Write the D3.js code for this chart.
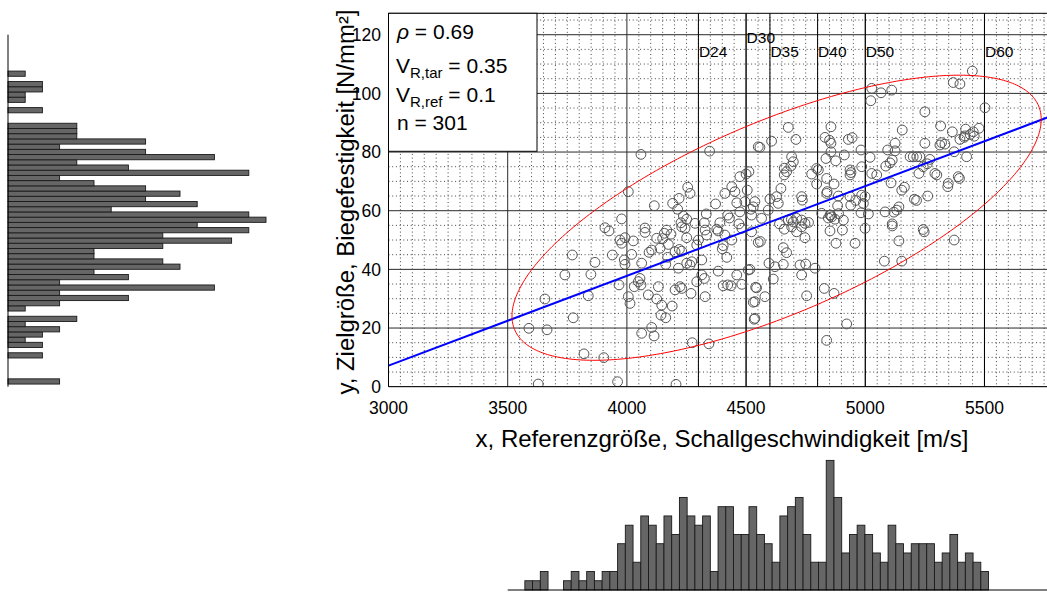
<!DOCTYPE html>
<html><head><meta charset="utf-8">
<script src="https://cdn.jsdelivr.net/npm/d3@7"></script>
<style>body{margin:0;background:#fff}svg{display:block;font-family:"Liberation Sans",Arial,Helvetica,sans-serif}</style>
</head><body><svg id="c" width="1047" height="594"></svg>
<script>
// ---------- data ----------
const xTicks = [3000, 3500, 4000, 4500, 5000, 5500];
const yTicks = [0, 20, 40, 60, 80, 100, 120];
const xDomain = [3000, 5800];
const yDomain = [0, 127.3];
const classNames = ["D24", "D30", "D35", "D40", "D50", "D60"];
const classX = [4300, 4500, 4600, 4800, 5000, 5500];
const rho = 0.69, vRtar = 0.35, vRref = 0.1, nSamples = 301;
const meanXY = [4628, 57.6];
const sdXY = [555, 24.3];
const ellipseK = 2;
const regression = [-84.6, 0.0306]; // intercept, slope
// bottom histogram (x values), 60 bins
const histXRange = [3572, 5517];
const histXCounts = [1,1,2,0,0,1,2,1,2,1, 2,2,5,7,3,8,7,5,8,6, 10,8,7,8,2,9,9,6,6,9, 6,5,3,8,9,10,6,3,3,14, 10,4,6,7,6,4,3,7,5,4, 5,5,5,3,4,6,3,4,3,2];
// left histogram (y values), 60 bins, ascending y
const histYRange = [0.9, 107.6];
const histYCounts = [3,0,0,0,0,2,0,2,1,2, 3,1,4,0,1,3,7,3,12,3, 7,5,10,9,5,5,9,13,9,14, 11,15,14,6,11,8,10,8,5,3, 14,7,4,12,8,3,8,4,4,4, 0,0,2,0,1,1,2,2,0,1];
// samples [x (m/s), y (N/mm²)]
const samples = [
[3628,0.9],[3589,19.9],[3665,19.4],[3656,29.9],[3775,23.5],[3771,44.9],[3740,38.1],[3866,42.4],[3849,38.3],[3838,31.0],
[3820,11.2],[3903,9.9],[3961,1.7],[3939,44.9],[3967,34.7],[4006,30.7],[4013,28.4],[4062,18.2],[4104,20.2],[4114,17.3],
[4206,0.8],[4274,15.0],[4344,14.6],[3908,54.2],[3925,53.1],[3971,50.0],[3978,48.9],[3992,50.8],[4027,49.7],[4020,45.1],
[3989,43.2],[3992,41.7],[4062,42.1],[4055,36.9],[4048,35.8],[4059,34.7],[4031,34.1],[4090,31.3],[4132,34.1],[4125,29.9],
[4146,27.8],[4190,27.5],[4143,24.4],[4163,23.5],[4076,52.6],[4125,50.6],[4157,52.3],[4167,53.4],[4104,46.6],[4093,45.8],
[4139,47.2],[4174,48.5],[4171,44.1],[4163,41.7],[4202,46.0],[4220,46.8],[4230,46.2],[4216,40.4],[4251,42.1],[4265,41.5],
[4272,42.6],[4202,33.0],[4223,34.1],[4230,33.5],[4269,31.8],[4328,30.7],[4293,35.8],[4314,38.1],[4325,36.9],[4314,43.2],
[4293,48.3],[4300,50.0],[4251,50.8],[4244,54.0],[4230,54.5],[4328,53.4],[4335,51.7],[4377,53.7],[4383,53.1],[4411,51.7],
[4440,50.0],[4404,48.1],[4419,44.1],[4383,39.4],[4461,38.1],[4509,39.8],[4516,40.0],[4404,34.4],[4423,34.7],[4437,34.4],
[4482,34.9],[4530,28.8],[4534,23.0],[4540,33.9],[4523,52.8],[4482,54.0],[4551,49.2],[4656,47.4],[4670,45.7],[4596,42.1],
[4621,40.9],[4656,41.7],[4726,41.5],[4750,41.8],[4733,38.1],[4789,40.4],[4614,36.7],[4544,33.7],[4579,30.7],[4537,29.0],
[4537,23.3],[4754,31.0],[4828,33.5],[4869,31.8],[4922,21.4],[4838,15.8],[4877,48.9],[4957,48.9],[4852,53.1],[4904,53.4],
[4999,54.0],[4747,50.8],[4712,52.8],[4660,53.7],[4691,54.5],[4733,54.5],[5080,42.8],[5153,42.8],[5141,49.7],[5247,52.8],
[5113,54.8],[5373,50.0],[5449,107.6],[5369,103.7],[5397,103.2],[5027,101.7],[5066,100.2],[5111,101.1],[5023,97.5],[5502,95.1],
[5250,93.7],[4677,88.4],[4856,88.6],[5155,87.5],[5316,88.9],[5365,86.9],[5421,87.8],[5453,86.9],[5477,88.1],[5397,84.3],
[5415,85.0],[5457,85.4],[4607,83.7],[4558,81.6],[4709,84.3],[4831,85.0],[4856,83.0],[4856,80.1],[4929,84.3],[4945,84.9],
[4982,80.7],[4912,79.0],[4876,77.0],[4835,77.8],[5020,78.2],[5094,80.7],[5125,83.0],[5125,80.4],[5250,83.0],[5320,83.2],
[5334,82.7],[5313,82.4],[5373,80.1],[5425,78.4],[5188,78.4],[5201,78.4],[5216,78.4],[5229,78.4],[5271,77.5],[4691,78.4],
[4698,76.7],[4688,75.2],[4670,73.3],[4660,72.2],[4796,74.4],[4803,73.9],[4775,72.5],[4838,71.0],[4796,69.1],[4869,69.1],
[4936,73.9],[4936,72.2],[4985,75.0],[5027,72.7],[5048,72.2],[5086,75.2],[5104,76.3],[5113,77.3],[5108,69.5],[5225,72.7],
[5243,75.0],[5292,72.7],[5300,72.2],[5390,71.6],[5348,69.3],[5346,68.2],[5164,68.0],[5153,67.0],[5206,63.9],[5262,65.0],
[4646,67.6],[4628,64.8],[4635,62.5],[4733,64.8],[4736,63.6],[4838,65.9],[4887,65.0],[4936,64.8],[4985,65.3],[4999,64.8],
[4992,62.5],[4939,61.9],[4884,61.7],[4593,60.2],[4537,63.1],[4565,57.4],[4677,56.8],[4698,56.2],[4712,57.4],[4733,56.8],
[4747,55.7],[4817,59.1],[4852,58.5],[4859,57.9],[4873,57.1],[4908,56.8],[5013,58.9],[4982,59.3],[5083,59.6],[5132,60.2],
[5141,61.3],[5113,55.5],[5243,53.6],[4059,79.2],[4347,80.3],[4006,66.5],[4115,61.7],[3978,57.2],[4076,54.1],[4255,68.0],
[4265,65.9],[4219,64.2],[4192,62.5],[4213,60.5],[4237,58.2],[4251,57.1],[4227,55.9],[4286,55.7],[4333,58.9],[4325,55.9],
[4372,62.3],[4390,55.9],[4411,65.9],[4440,68.2],[4453,66.5],[4474,71.6],[4512,73.3],[4505,67.0],[4461,62.7],[4495,63.1],
[4530,61.3],[4474,59.6],[4523,58.5],[4423,58.5],[4551,81.8],
[4150,50.5],[4185,52.0],[4430,57.5],[4470,55.5],[4520,60.5],[4400,47.0],[4500,72.5],[4640,55.5],[4690,57.0],[4560,49.5],
[4660,74.5],[4600,64.0],[4845,57.5],[4855,58.5],[4762,56.0],[4840,66.5],[4850,84.0],[4888,59.0],[4960,63.5],[4940,73.0],
[5120,59.5],[5260,76.0],[5215,63.5],[5395,71.0],[5418,85.5],[5440,86.0]
];

// ---------- layout ----------
const svg = d3.select("#c");
const P = {left: 388.5, right: 1056, top: 13.3, bottom: 386.7};
const x = d3.scaleLinear().domain(xDomain).range([P.left, P.right]);
const y = d3.scaleLinear().domain(yDomain).range([P.bottom, P.top]);

svg.append("rect").attr("width", 1047).attr("height", 594).attr("fill", "#fff");
svg.append("defs").append("clipPath").attr("id", "plotclip").append("rect")
  .attr("x", P.left).attr("y", P.top).attr("width", P.right - P.left).attr("height", P.bottom - P.top);

const plot = svg.append("g").attr("clip-path", "url(#plotclip)");

// minor grid
const minorX = d3.range(xDomain[0], xDomain[1] + 1, 50).filter(v => v % 500 !== 0);
const minorY = d3.range(0, yDomain[1], 5).filter(v => v % 20 !== 0);
plot.append("g").selectAll("line").data(minorX).join("line")
  .attr("x1", d => x(d)).attr("x2", d => x(d)).attr("y1", P.top).attr("y2", P.bottom)
  .attr("stroke", "#444").attr("stroke-width", 1).attr("stroke-dasharray", "1,2.7");
plot.append("g").selectAll("line").data(minorY).join("line")
  .attr("y1", d => y(d)).attr("y2", d => y(d)).attr("x1", P.left).attr("x2", P.right)
  .attr("stroke", "#444").attr("stroke-width", 1).attr("stroke-dasharray", "1,2.7");

// major grid
const majorX = d3.range(xDomain[0], xDomain[1] + 1, 500);
plot.append("g").selectAll("line").data(majorX).join("line")
  .attr("x1", d => x(d)).attr("x2", d => x(d)).attr("y1", P.top).attr("y2", P.bottom)
  .attr("stroke", "#2a2a2a").attr("stroke-width", 1);
plot.append("g").selectAll("line").data(yTicks).join("line")
  .attr("y1", d => y(d)).attr("y2", d => y(d)).attr("x1", P.left).attr("x2", P.right)
  .attr("stroke", "#2a2a2a").attr("stroke-width", 1);

// class lines
plot.append("g").selectAll("line").data(classX).join("line")
  .attr("x1", d => x(d)).attr("x2", d => x(d)).attr("y1", P.top).attr("y2", P.bottom)
  .attr("stroke", "#000").attr("stroke-width", 1);

// samples
plot.append("g").selectAll("circle").data(samples).join("circle")
  .attr("cx", d => x(d[0])).attr("cy", d => y(d[1])).attr("r", 4.9)
  .attr("fill", "none").attr("stroke", "#555").attr("stroke-width", 1);

// regression line
plot.append("line")
  .attr("x1", x(xDomain[0])).attr("y1", y(regression[0] + regression[1] * xDomain[0]))
  .attr("x2", x(xDomain[1])).attr("y2", y(regression[0] + regression[1] * xDomain[1]))
  .attr("stroke", "#0000ff").attr("stroke-width", 2);

// confidence ellipse
const ts = d3.range(0, 2 * Math.PI, Math.PI / 180);
const ell = ts.map(t => [
  meanXY[0] + ellipseK * sdXY[0] * Math.cos(t),
  meanXY[1] + ellipseK * sdXY[1] * (rho * Math.cos(t) + Math.sqrt(1 - rho * rho) * Math.sin(t))
]);
plot.append("path").datum(ell)
  .attr("d", d3.line().x(d => x(d[0])).y(d => y(d[1])).curve(d3.curveLinearClosed))
  .attr("fill", "none").attr("stroke", "#ff0000").attr("stroke-width", 1);

// class labels
svg.append("g").selectAll("text").data(classNames).join("text")
  .attr("x", (d, i) => x(classX[i]) + 0.5)
  .attr("y", d => d === "D30" ? 43 : 57)
  .attr("font-size", 15.5).attr("fill", "#000").text(d => d);

// axes border
svg.append("path")
  .attr("d", `M${P.right},${P.top}H${P.left}V${P.bottom}H${P.right}`)
  .attr("fill", "none").attr("stroke", "#000").attr("stroke-width", 1);

// legend box
const lg = svg.append("g");
lg.append("rect").attr("x", P.left).attr("y", 13.3).attr("width", 148.5).attr("height", 138)
  .attr("fill", "#fff").attr("stroke", "#000").attr("stroke-width", 1);
const t1 = lg.append("text").attr("x", 397).attr("y", 39).attr("font-size", 21);
t1.append("tspan").attr("font-style", "italic").text("ρ");
t1.append("tspan").text(" = " + rho);
const t2 = lg.append("text").attr("x", 396).attr("y", 73.3).attr("font-size", 21);
t2.append("tspan").text("V");
t2.append("tspan").attr("font-size", 15).attr("dy", 5).text("R,tar");
t2.append("tspan").attr("dy", -5).text(" = " + vRtar);
const t3 = lg.append("text").attr("x", 396).attr("y", 101.7).attr("font-size", 21);
t3.append("tspan").text("V");
t3.append("tspan").attr("font-size", 15).attr("dy", 5).text("R,ref");
t3.append("tspan").attr("dy", -5).text(" = " + vRref);
lg.append("text").attr("x", 397).attr("y", 130).attr("font-size", 21).text("n = " + nSamples);

// tick labels
svg.append("g").selectAll("text").data(xTicks).join("text")
  .attr("x", d => x(d)).attr("y", 414).attr("text-anchor", "middle")
  .attr("font-size", 17.5).text(d => d);
svg.append("g").selectAll("text").data(yTicks).join("text")
  .attr("x", 381).attr("y", d => y(d)).attr("dy", "0.36em").attr("text-anchor", "end")
  .attr("font-size", 17.5).text(d => d);

// axis titles
svg.append("text").attr("x", 722).attr("y", 447).attr("text-anchor", "middle")
  .attr("font-size", 24).attr("textLength", 493).attr("lengthAdjust", "spacingAndGlyphs")
  .text("x, Referenzgröße, Schallgeschwindigkeit [m/s]");
svg.append("text").attr("transform", "translate(354,202) rotate(-90)")
  .attr("text-anchor", "middle").attr("font-size", 23)
  .attr("textLength", 385).attr("lengthAdjust", "spacingAndGlyphs")
  .text("y, Zielgröße, Biegefestigkeit [N/mm²]");

// ---------- bottom histogram ----------
const bx = d3.scaleLinear().domain([0, histXCounts.length]).range(histXRange);
const bh = d3.scaleLinear().domain([0, 14]).range([590, 460.4]);
const bottomBins = histXCounts.map((c, i) => ({c, x0: bx(i), x1: bx(i + 1)})).filter(b => b.c > 0);
svg.append("g").selectAll("rect").data(bottomBins).join("rect")
  .attr("x", d => x(d.x0)).attr("width", d => x(d.x1) - x(d.x0))
  .attr("y", d => bh(d.c)).attr("height", d => bh(0) - bh(d.c))
  .attr("fill", "#666").attr("stroke", "#1a1a1a").attr("stroke-width", 0.9);
svg.append("line").attr("x1", x(3500)).attr("x2", 1047).attr("y1", 590).attr("y2", 590)
  .attr("stroke", "#000").attr("stroke-width", 1);

// ---------- left histogram ----------
const by = d3.scaleLinear().domain([0, histYCounts.length]).range(histYRange);
const lw = d3.scaleLinear().domain([0, 15]).range([8, 266]);
const leftBins = histYCounts.map((c, i) => ({c, y0: by(i), y1: by(i + 1)})).filter(b => b.c > 0);
svg.append("g").selectAll("rect").data(leftBins).join("rect")
  .attr("x", lw(0)).attr("width", d => lw(d.c) - lw(0))
  .attr("y", d => y(d.y1)).attr("height", d => y(d.y0) - y(d.y1))
  .attr("fill", "#666").attr("stroke", "#1a1a1a").attr("stroke-width", 0.9);
svg.append("line").attr("x1", 8).attr("x2", 8).attr("y1", y(120)).attr("y2", y(0))
  .attr("stroke", "#000").attr("stroke-width", 1);
</script></body></html>
